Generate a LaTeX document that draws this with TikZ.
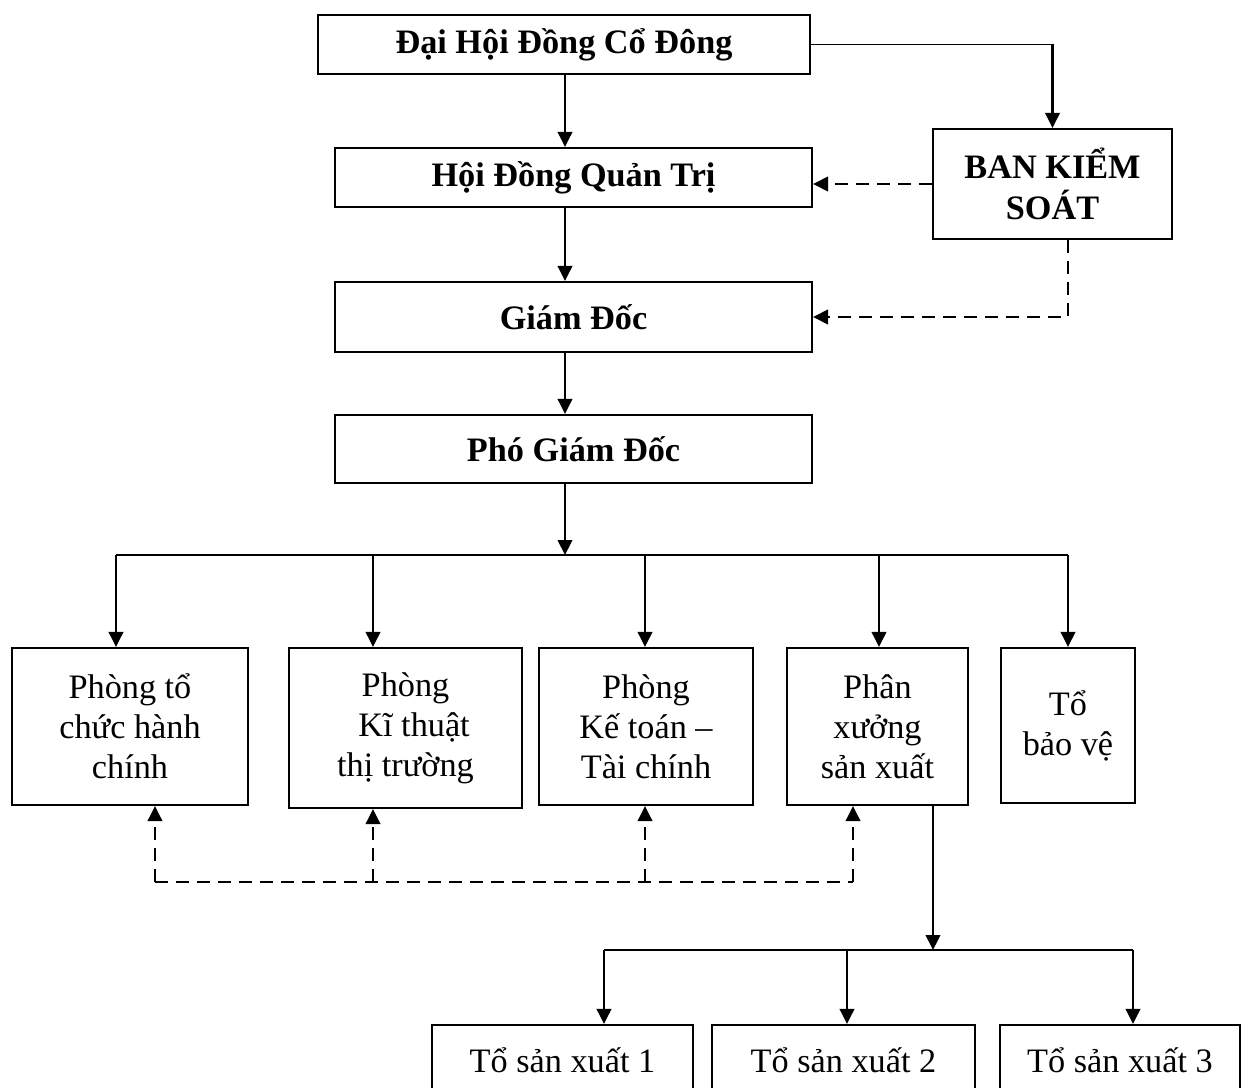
\documentclass[tikz,border=0pt]{standalone}
\usepackage{fontspec}
\setmainfont{Liberation Serif}
\usetikzlibrary{arrows.meta}
\tikzset{box/.style={
    draw, line width=1.2pt, inner sep=0pt, align=center,
    font=\fontsize{19.5}{22.8}\selectfont
  },
  headbox/.style={box, font=\fontsize{19.5}{23}\selectfont\bfseries},
  arr/.style={line width=1.2pt, -{Triangle[length=0.3cm,width=0.29cm]}},
  darr/.style={arr, dash pattern=on 0.26cm off 0.16cm},
  dline/.style={line width=1.2pt, dash pattern=on 0.26cm off 0.16cm}
}

\begin{document}
\begin{tikzpicture}[x=0.02cm, y=-0.02cm]
  \useasboundingbox (0,0) rectangle (1248,1088);
  % upper levels
  \node[headbox, minimum width=9.84cm, minimum height=1.18cm] (dhdcd) at (564,44.5) {Đại Hội Đồng Cổ Đông};
  \node[headbox, minimum width=9.54cm, minimum height=1.18cm] (hdqt) at (573.5,177.5) {Hội Đồng Quản Trị};
  \node[headbox, minimum width=4.78cm, minimum height=2.2cm] (bks) at (1052.5,184) {BAN KIỂM\\SOÁT};
  \node[headbox, minimum width=9.54cm, minimum height=1.4cm] (gd) at (573.5,317) {Giám Đốc};
  \node[headbox, minimum width=9.54cm, minimum height=1.36cm] (pgd) at (573.5,449) {Phó Giám Đốc};
  % departments
  \node[box, minimum width=4.72cm, minimum height=3.14cm] (b1) at (130,726.5) {Phòng tổ\\chức hành\\chính};
  \node[box, minimum width=4.66cm, minimum height=3.2cm] (b2) at (405.5,728) {Phòng\\\ \ Kĩ thuật\\thị trường};
  \node[box, minimum width=4.28cm, minimum height=3.14cm] (b3) at (646,726.5) {Phòng\\Kế toán –\\Tài chính};
  \node[box, minimum width=3.62cm, minimum height=3.14cm] (b4) at (877.5,726.5) {Phân\\xưởng\\sản xuất};
  \node[box, minimum width=2.68cm, minimum height=3.1cm] (b5) at (1068,725.5) {Tổ\\bảo vệ};
  % production teams
  \node[box, minimum width=5.22cm, minimum height=1.4cm] (s1) at (562.5,1060) {Tổ sản xuất 1};
  \node[box, minimum width=5.26cm, minimum height=1.4cm] (s2) at (843.5,1060) {Tổ sản xuất 2};
  \node[box, minimum width=4.8cm, minimum height=1.4cm] (s3) at (1120,1060) {Tổ sản xuất 3};

  \coordinate (spine) at (565,0);
  \coordinate (bus) at (0,555);
  \coordinate (corner) at (dhdcd.east -| bks.north);

  % solid links
  \draw[arr] (dhdcd.south -| spine) -- (hdqt.north -| spine);
  \draw[line width=0.7pt] (dhdcd.east) -- (corner);
  \draw[arr] (corner) -- (bks.north);
  \draw[arr] (hdqt.south -| spine) -- (gd.north -| spine);
  \draw[arr] (gd.south -| spine) -- (pgd.north -| spine);
  \draw[arr] (pgd.south -| spine) -- (spine |- bus);
  \draw[line width=1.2pt] (116,555) -- (1068,555);
  \foreach \n/\x in {b1/116, b2/373, b3/645, b4/879, b5/1068} {
    \coordinate (t) at (\x,555);
    \draw[arr] (t) -- (t |- \n.north);
  }
  \draw[arr] (b4.south -| 933,0) -- (933,950);
  \draw[line width=1.2pt] (604,950) -- (1133,950);
  \foreach \n/\x in {s1/604, s2/847, s3/1133} {
    \coordinate (t) at (\x,950);
    \draw[arr] (t) -- (t |- \n.north);
  }

  % control links
  \draw[darr] (bks.west) -- (bks.west -| hdqt.east);
  \draw[darr] (bks.south -| b5.north) |- (gd.east);
  \draw[dline] (155,882) -- (853,882);
  \foreach \n/\x in {b1/155, b2/373, b3/645, b4/853} {
    \coordinate (t) at (\x,882);
    \draw[darr] (t) -- (t |- \n.south);
  }
\end{tikzpicture}
\end{document}
